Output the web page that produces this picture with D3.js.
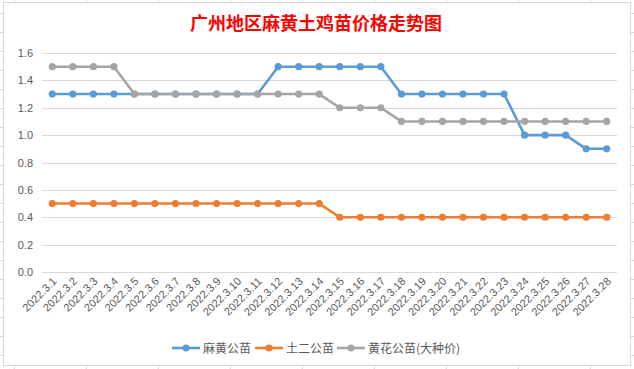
<!DOCTYPE html>
<html><head><meta charset="utf-8">
<script src="https://cdn.jsdelivr.net/npm/d3@7/dist/d3.min.js"></script>
<style>body{margin:0;background:#fff}svg{display:block}</style>
</head><body>
<svg id="c" width="634" height="369"></svg>
<script>
const categories = ["2022.3.1","2022.3.2","2022.3.3","2022.3.4","2022.3.5","2022.3.6","2022.3.7","2022.3.8","2022.3.9","2022.3.10","2022.3.11","2022.3.12","2022.3.13","2022.3.14","2022.3.15","2022.3.16","2022.3.17","2022.3.18","2022.3.19","2022.3.20","2022.3.21","2022.3.22","2022.3.23","2022.3.24","2022.3.25","2022.3.26","2022.3.27","2022.3.28"];
const mahuang = [1.3,1.3,1.3,1.3,1.3,1.3,1.3,1.3,1.3,1.3,1.3,1.5,1.5,1.5,1.5,1.5,1.5,1.3,1.3,1.3,1.3,1.3,1.3,1.0,1.0,1.0,0.9,0.9];
const tuer = [0.5,0.5,0.5,0.5,0.5,0.5,0.5,0.5,0.5,0.5,0.5,0.5,0.5,0.5,0.4,0.4,0.4,0.4,0.4,0.4,0.4,0.4,0.4,0.4,0.4,0.4,0.4,0.4];
const huanghua = [1.5,1.5,1.5,1.5,1.3,1.3,1.3,1.3,1.3,1.3,1.3,1.3,1.3,1.3,1.2,1.2,1.2,1.1,1.1,1.1,1.1,1.1,1.1,1.1,1.1,1.1,1.1,1.1];
const seriesNames = ["麻黄公苗","土二公苗","黄花公苗(大种价)"];
const yTicks = [0,0.2,0.4,0.6,0.8,1.0,1.2,1.4,1.6];
const title = "广州地区麻黄土鸡苗价格走势图";

const colors = ["#5b9bd5","#ed7d31","#a5a5a5"];
const svg = d3.select("#c");
const W = 634, H = 369;

// spreadsheet grid behind
const gridC = "#d5d5de";
const bg = svg.append("g");
d3.range(14, W, 72).forEach(x => bg.append("line").attr("x1",x+0.5).attr("x2",x+0.5).attr("y1",0).attr("y2",H).attr("stroke",gridC));
d3.range(13, H, 19).forEach(y => bg.append("line").attr("x1",0).attr("x2",W).attr("y1",y+0.5).attr("y2",y+0.5).attr("stroke",gridC));

// chart area
svg.append("rect").attr("x",3.5).attr("y",2.5).attr("width",627).attr("height",363)
  .attr("fill","#fff").attr("stroke","#d9d9d9");

svg.append("text").attr("x",316).attr("y",30).attr("text-anchor","middle")
  .attr("font-family","'Noto Sans CJK SC'").attr("font-weight","bold").attr("font-size",18)
  .attr("fill","#ff0000").text(title);

const x = d3.scaleBand().domain(categories).range([42,617]);
const y = d3.scaleLinear().domain([0,1.6]).range([272,53]);

const ga = svg.append("g");
yTicks.forEach(t => {
  ga.append("line").attr("x1",42).attr("x2",617).attr("y1",Math.round(y(t))+0.5).attr("y2",Math.round(y(t))+0.5)
    .attr("stroke","#d9d9d9").attr("stroke-width",1);
  ga.append("text").attr("x",33).attr("y",y(t)+4).attr("text-anchor","end")
    .attr("font-family","'Liberation Sans', Arial, sans-serif").attr("font-size",11).attr("fill","#595959")
    .text(t.toFixed(1));
});

categories.forEach(c => {
  const cx = x(c) + x.bandwidth()/2;
  ga.append("text").attr("transform",`translate(${cx+5},${282}) rotate(-45)`)
    .attr("text-anchor","end").attr("font-family","'Liberation Sans', Arial, sans-serif")
    .attr("font-size",11).attr("fill","#595959").text(c);
});

const line = d3.line().x((d,i)=>x(categories[i])+x.bandwidth()/2).y(d=>y(d));
[mahuang,tuer,huanghua].forEach((s,k) => {
  const g = svg.append("g");
  g.append("path").attr("d",line(s)).attr("fill","none").attr("stroke",colors[k]).attr("stroke-width",2.6).attr("stroke-linejoin","round");
  g.selectAll("circle").data(s).join("circle")
    .attr("cx",(d,i)=>x(categories[i])+x.bandwidth()/2).attr("cy",d=>y(d)).attr("r",3.6).attr("fill",colors[k]);
});

// legend
const legX = [172,255,337];
seriesNames.forEach((n,k) => {
  const g = svg.append("g").attr("transform",`translate(${legX[k]},348)`);
  g.append("line").attr("x1",0).attr("x2",28).attr("stroke",colors[k]).attr("stroke-width",2.6);
  g.append("circle").attr("cx",14).attr("r",3.6).attr("fill",colors[k]);
  g.append("text").attr("x",31).attr("y",4.5).attr("font-family","'Noto Sans CJK SC'").attr("font-size",12)
    .attr("fill","#595959").text(n);
});
</script>
</body></html>
